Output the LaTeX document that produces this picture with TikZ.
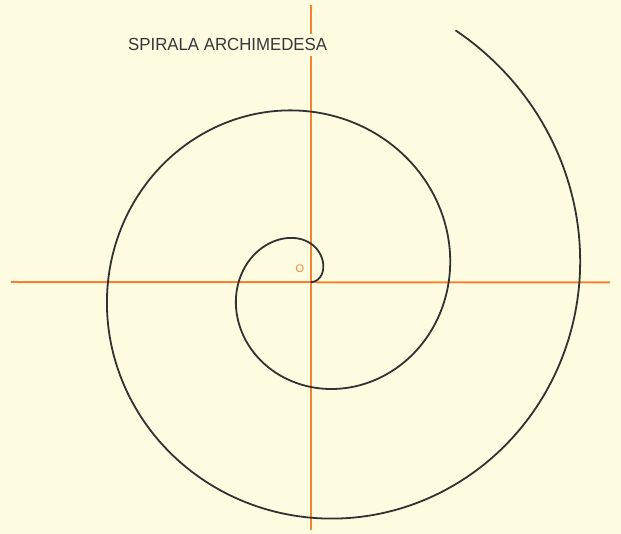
\documentclass[tikz,border=0pt]{standalone}
\usepackage{fontspec}
\setmainfont{Liberation Sans}
\definecolor{paper}{RGB}{253,252,225}
\definecolor{axisor}{RGB}{240,132,52}
\definecolor{ink}{RGB}{50,50,50}
\definecolor{lettering}{RGB}{55,55,55}
\tikzset{
  axisline/.style={draw=axisor, line width=2pt},
  spiralline/.style={draw=ink, line width=1.8pt, line cap=round},
  titlelabel/.style={font=\fontsize{17.5}{20}\selectfont, text=lettering, fill=paper, inner xsep=0pt, inner ysep=4.5pt, anchor=base west},
  originlabel/.style={font=\fontsize{11}{12}\selectfont, text=axisor, inner sep=0pt}
}
\begin{document}
\begin{tikzpicture}[x=1pt,y=1pt]
  \fill[paper] (-311,-252) rectangle (310,282);
  \useasboundingbox (-311,-252) rectangle (310,282);
  % axes
  \coordinate (xl) at (-300,0);
  \coordinate (xr) at (299,-0.5);
  \coordinate (yt) at (0,277);
  \coordinate (yb) at (0,-248);
  \draw[axisline] (xl) -- (xr);
  \draw[axisline] (yb) -- (yt);
  % title (covers the vertical axis)
  \node[titlelabel] (title) at (-183,231) {\scalebox{0.96}[1]{SPIRALA ARCHIMEDESA}};
  \node[originlabel] (origin) at (-11,13) {O};
  % Archimedean spiral
  \draw[spiralline] plot[domain=0:13.62, samples=500, smooth, variable=\t]
    ({(20.8*\t + 7*(1-exp(-min((\t/1.4)^4,20))))*cos(\t r)},
     {(20.8*\t + 7*(1-exp(-min((\t/1.4)^4,20))))*sin(\t r)});
\end{tikzpicture}
\end{document}
